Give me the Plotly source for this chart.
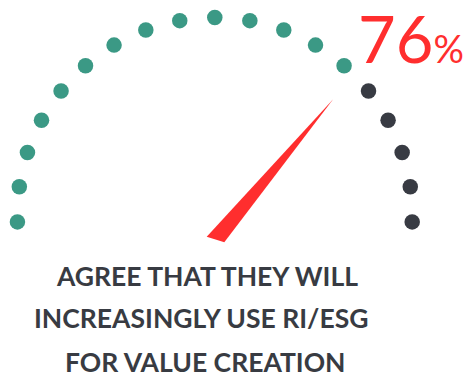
import numpy as np
import plotly.graph_objects as go

# ---- data ----
VALUE = 76                  # percent shown
TOTAL_DOTS = 19             # dots around the gauge
FILLED_DOTS = 14            # teal dots (agree)
LABEL_LINES = ["AGREE THAT THEY WILL", "INCREASINGLY USE RI/ESG", "FOR VALUE CREATION"]

# ---- style / geometry (pixel frame) ----
W, H = 467, 380
CX, CY, R = 214.8, 215.0, 197.5
A_START, A_END = 182.0, -2.0
TEAL, DARK, RED, TEXT = "#3B9985", "#383B43", "#FF2E2E", "#383B42"
PIVOT = (215.5, 239.5)
NEEDLE_ANGLE = 50.0
NEEDLE_LEN = 183.0
BASE_OFF = (8.8, 2.8)

angles = np.radians(np.linspace(A_START, A_END, TOTAL_DOTS))
xs = CX + R * np.cos(angles)
ys = CY - R * np.sin(angles)
colors = [TEAL if i < FILLED_DOTS else DARK for i in range(TOTAL_DOTS)]

fig = go.Figure()
fig.add_trace(go.Scatter(x=xs, y=ys, mode="markers",
                         marker=dict(size=15.5, color=colors, line=dict(width=0)),
                         hoverinfo="skip"))

a = np.radians(NEEDLE_ANGLE)
tip = (PIVOT[0] + NEEDLE_LEN * np.cos(a), PIVOT[1] - NEEDLE_LEN * np.sin(a))
nx = [tip[0], PIVOT[0] - BASE_OFF[0], PIVOT[0] + BASE_OFF[0], tip[0]]
ny = [tip[1], PIVOT[1] - BASE_OFF[1], PIVOT[1] + BASE_OFF[1], tip[1]]
fig.add_trace(go.Scatter(x=nx, y=ny, mode="lines", fill="toself", fillcolor=RED,
                         line=dict(width=0, color=RED), hoverinfo="skip"))

fig.add_annotation(x=356, y=38, xref="x", yref="y", xanchor="left", yanchor="middle",
                   text=f"{VALUE}<span style='font-size:38px'>%</span>",
                   showarrow=False, font=dict(family="Lato", size=65, color=RED))

line_y = [276, 318, 361.5]
line_x = [206.5, 201, 205.5]
for t, lx, ly in zip(LABEL_LINES, line_x, line_y):
    fig.add_annotation(x=lx, y=ly, xref="x", yref="y", xanchor="center", yanchor="middle",
                       text=f"<b>{t}</b>", showarrow=False,
                       font=dict(family="Lato", size=26.5, color=TEXT))

fig.update_xaxes(range=[0, W], visible=False, fixedrange=True)
fig.update_yaxes(range=[H, 0], visible=False, fixedrange=True)
fig.update_layout(width=W, height=H, margin=dict(l=0, r=0, t=0, b=0),
                  paper_bgcolor="white", plot_bgcolor="white", showlegend=False)
fig.write_html("out.html")
